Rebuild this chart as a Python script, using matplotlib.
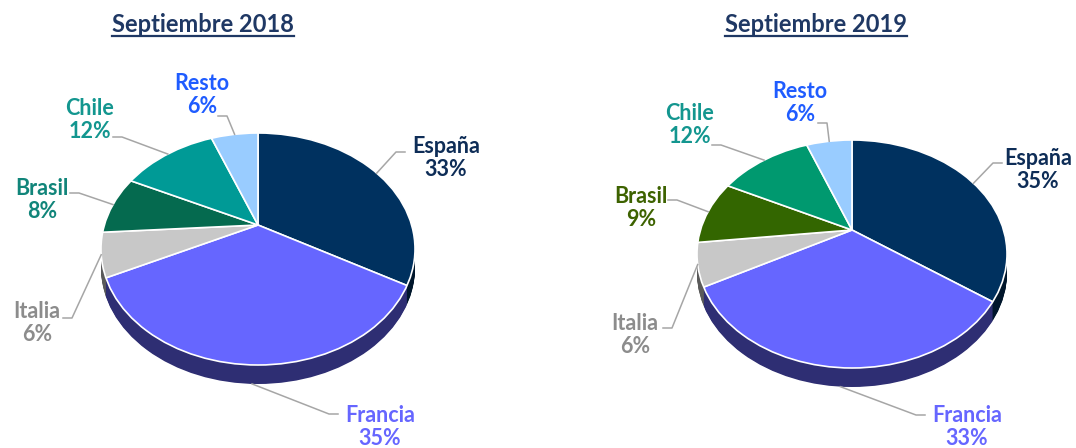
import numpy as np
import matplotlib
matplotlib.use("Agg")
import matplotlib.pyplot as plt
from matplotlib.lines import Line2D
from matplotlib.patches import Circle
from matplotlib.colors import to_rgb

plt.rcParams['font.family'] = ['Lato', 'DejaVu Sans']

# ---------------- data ----------------
categories = ["España", "Francia", "Italia", "Brasil", "Chile", "Resto"]
titles = ["Septiembre 2018", "Septiembre 2019"]
values_2018 = [33, 35, 6, 8, 12, 6]
values_2019 = [35, 33, 6, 9, 12, 6]

# ---------------- styles ----------------
colors_2018 = ["#00315f", "#6666ff", "#c8c8c8", "#056a4f", "#009a96", "#99ccff"]
colors_2019 = ["#00315f", "#6666ff", "#c8c8c8", "#336600", "#00996f", "#99ccff"]
label_colors_2018 = ["#0e2d57", "#6666ff", "#8c8c8c", "#11857a", "#13968f", "#1f5cff"]
label_colors_2019 = ["#0e2d57", "#6666ff", "#8c8c8c", "#3d6200", "#13968f", "#1f5cff"]
title_color = "#1f3864"
leader_color = "#a6a6a6"

W, H = 1076, 448
fig = plt.figure(figsize=(W / 100, H / 100), dpi=100)

# layout in pixels (from top-left): ellipse centre, radii, depth, apex lift
pie_layout = [
    dict(cx=258, cy=249, rx=157, ry=116, depth=19, lift=24, title=(203, 24)),
    dict(cx=852, cy=254, rx=155, ry=114, depth=19, lift=24, title=(816, 24)),
]
# label block centres and leader start points (pixels), direction of elbow
label_layout = [
    [((446, 158), (405, 152), -1), ((380, 427), (338, 414), -1), ((37, 323), (63, 318), 1),
     ((42, 200), (70, 193), 1), ((90, 120), (113, 137), 1), ((202, 95), (218, 116), 1)],
    [((1038, 170), (1002, 163), -1), ((967, 427), (925, 415), -1), ((635, 335), (663, 328), 1),
     ((641, 208), (668, 200), 1), ((690, 125), (712, 145), 1), ((800, 103), (818, 123), 1)],
]

L = 1.35


def darken(c, f):
    r, g, b = to_rgb(c)
    return (r * f, g * f, b * f)


for i, (vals, cols, lcols) in enumerate([(values_2018, colors_2018, label_colors_2018),
                                           (values_2019, colors_2019, label_colors_2019)]):
    lay = pie_layout[i]
    aw, ah = 2 * L * lay["rx"], 2 * L * lay["ry"]
    left = (lay["cx"] - aw / 2) / W
    bottom = 1 - (lay["cy"] + ah / 2) / H
    ax = fig.add_axes([left, bottom, aw / W, ah / H])
    ax.set_xlim(-L, L)
    ax.set_ylim(-L, L)
    d = lay["depth"] / lay["ry"]
    a = lay["lift"] / lay["ry"]
    side_cols = [darken(c, 0.45) for c in cols]
    for off in np.linspace(d, 0.005, 24):
        ws, _ = ax.pie(vals, colors=side_cols, startangle=90, counterclock=False,
                       center=(0, a - off), radius=1.5, wedgeprops=dict(linewidth=0))
        clip = Circle((0, -off), 1, transform=ax.transData)
        for w in ws:
            w.set_clip_on(True)
            w.set_clip_path(clip)
    wedges, _ = ax.pie(vals, colors=cols, startangle=90, counterclock=False,
                       center=(0, a), radius=1.5,
                       wedgeprops=dict(linewidth=1.2, edgecolor="white"))
    clip = Circle((0, 0), 1, transform=ax.transData)
    for w in wedges:
        w.set_clip_on(True)
        w.set_clip_path(clip)
    ax.add_patch(Circle((0, 0), 1, fill=False, edgecolor="white", lw=1.2))
    ax.set_aspect('auto')
    ax.set_xlim(-L, L)
    ax.set_ylim(-L, L)
    ax.axis('off')

    # labels and leader lines
    for j, w in enumerate(wedges):
        theta = np.deg2rad((w.theta1 + w.theta2) / 2)
        s, c = np.sin(theta), np.cos(theta)
        t = -a * s + np.sqrt(a * a * s * s - a * a + 1)
        px, py = t * c, a + t * s
        if py < -0.7:
            py -= d
        ex, ey = ax.transData.transform((px, py))
        (tx, ty), (sx, sy), dr = label_layout[i][j]
        pct = f"{vals[j]}%"
        fig.text(tx / W, 1 - ty / H, f"{categories[j]}\n{pct}", ha="center", va="center",
                 fontsize=15.5, fontweight="bold", color=lcols[j], linespacing=1.12)
        xs = [sx, sx + dr * 9, ex]
        ys = [H - sy, H - sy, ey]
        fig.add_artist(Line2D(xs, ys, transform=None, color=leader_color, lw=1.1, zorder=5))

    # title
    tx, ty = lay["title"]
    tt = fig.text(tx / W, 1 - ty / H, titles[i], ha="center", va="center",
                  fontsize=17, fontweight="bold", color=title_color)
    fig.canvas.draw()
    bb = tt.get_window_extent()
    fig.add_artist(Line2D([bb.x0, bb.x1], [bb.y0 - 1, bb.y0 - 1], transform=None,
                          color=title_color, lw=1.6))

fig.savefig("out.png", dpi=100)
